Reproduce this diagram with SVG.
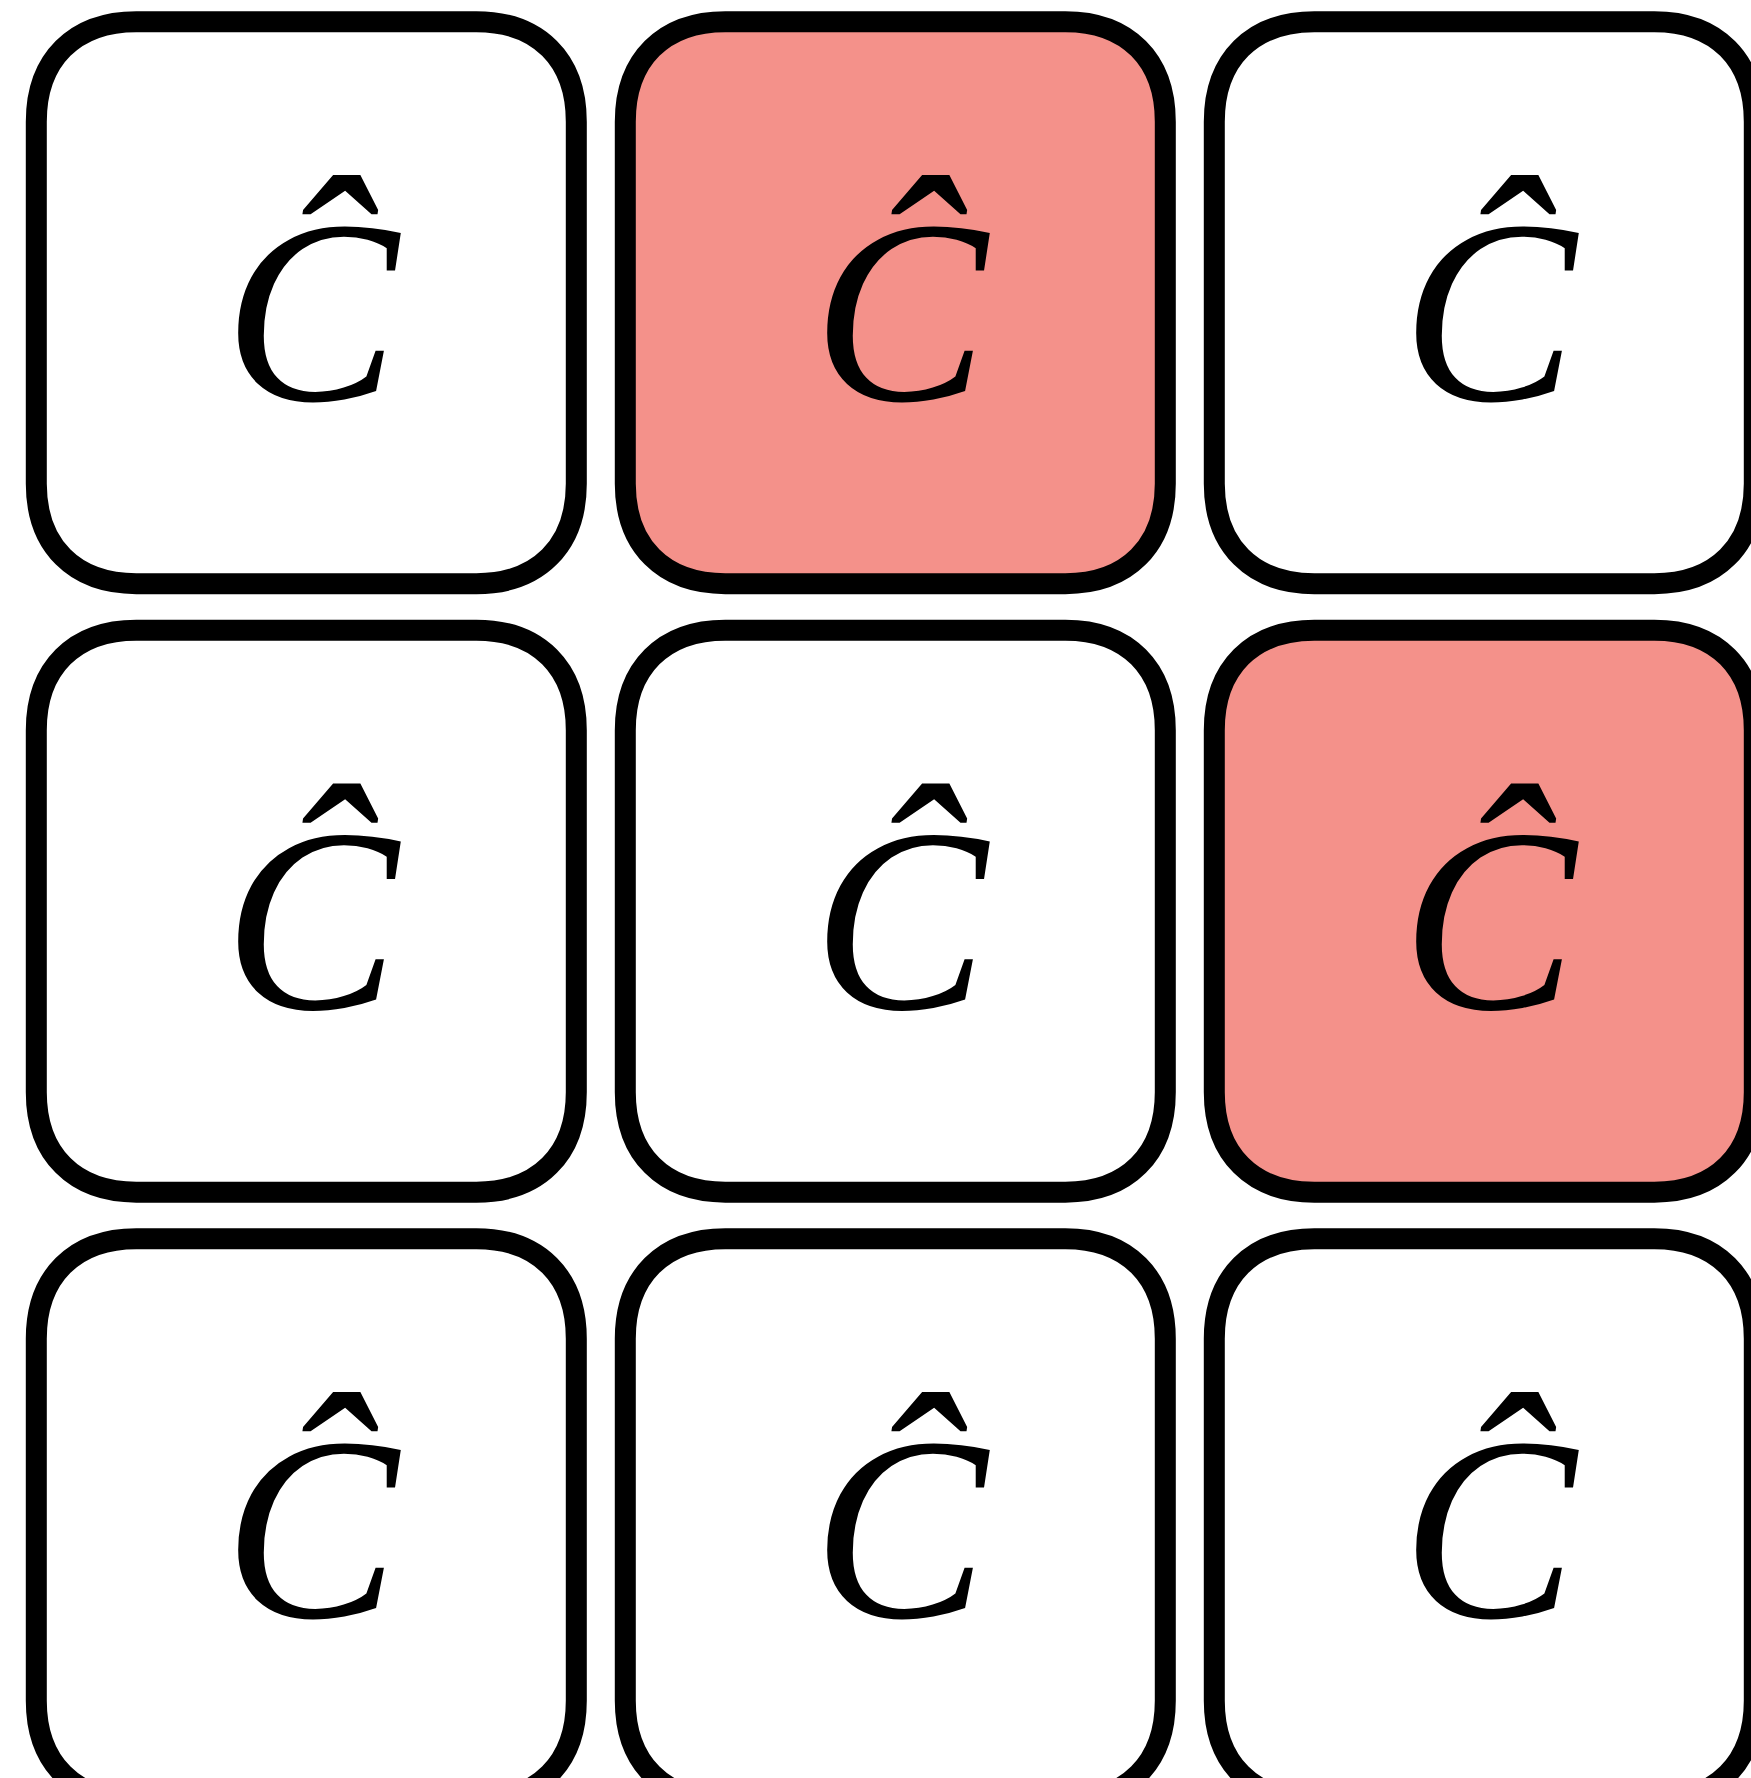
<svg xmlns="http://www.w3.org/2000/svg" width="1751" height="1778" viewBox="0 0 1751 1778">
<defs>
<path id="bx" d="M100 0 H440 C502 0 540 38 540 100 V462 C540 524 502 562 440 562 H100 C38 562 0 524 0 462 V100 C0 38 38 0 100 0 Z"/>
</defs>
<style>
.box{fill:#ffffff;stroke:#000000;stroke-width:21}
.hl{fill:#f4918a}
.lbl{font-family:"Liberation Serif","Times New Roman",serif;font-style:italic;font-size:262px;text-anchor:middle;fill:#000000}
</style>
<rect width="1751" height="1778" fill="#ffffff"/>
<g id="connectors"></g>
<g id="n00"><use href="#bx" class="box" x="36.3" y="21.7"/><text class="lbl" x="311" y="400">Ĉ</text></g>
<g id="n01"><use href="#bx" class="box hl" x="625.3" y="21.7"/><text class="lbl" x="900" y="400">Ĉ</text></g>
<g id="n02"><use href="#bx" class="box" x="1214.3" y="21.7"/><text class="lbl" x="1489" y="400">Ĉ</text></g>
<g id="n10"><use href="#bx" class="box" x="36.3" y="630.2"/><text class="lbl" x="311" y="1008.5">Ĉ</text></g>
<g id="n11"><use href="#bx" class="box" x="625.3" y="630.2"/><text class="lbl" x="900" y="1008.5">Ĉ</text></g>
<g id="n12"><use href="#bx" class="box hl" x="1214.3" y="630.2"/><text class="lbl" x="1489" y="1008.5">Ĉ</text></g>
<g id="n20"><use href="#bx" class="box" x="36.3" y="1238.7"/><text class="lbl" x="311" y="1617">Ĉ</text></g>
<g id="n21"><use href="#bx" class="box" x="625.3" y="1238.7"/><text class="lbl" x="900" y="1617">Ĉ</text></g>
<g id="n22"><use href="#bx" class="box" x="1214.3" y="1238.7"/><text class="lbl" x="1489" y="1617">Ĉ</text></g>
</svg>
